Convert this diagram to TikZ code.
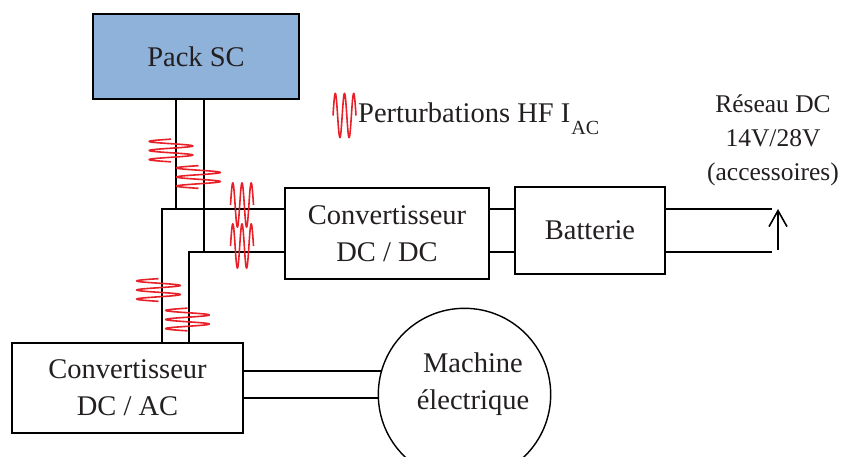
\documentclass[tikz,border=0pt]{standalone}
\usepackage{fontspec}
\setmainfont{Liberation Serif}
\usetikzlibrary{arrows.meta}
\definecolor{txt}{RGB}{35,31,32}
\definecolor{packfill}{RGB}{142,178,218}
\definecolor{pertred}{RGB}{232,32,40}
\begin{document}
\begin{tikzpicture}[x=1pt,y=-1pt,
  box/.style={draw=black, line width=1.4pt, rectangle, text=txt, align=center,
    font=\fontsize{28.5}{37}\selectfont, inner sep=0pt},
  wire/.style={draw=black, line width=2pt, line join=miter},
  pert/.style={draw=pertred, line width=1.6pt},
  hwave/.pic={\draw[pert] plot[domain=0:900,samples=181] ({-21.7*sin(\x)},{-11.35+(\x/900)*22.7});},
  vwave/.pic={\draw[pert] plot[domain=0:900,samples=181] ({-11.5+(\x/900)*23},{-22*sin(\x)});},
  lbl/.style={text=txt, align=center, inner sep=0pt},
]
\useasboundingbox (0,0) rectangle (843,457);
\clip (0,0) rectangle (843,457);

% blocks
\node[box, fill=packfill, line width=1.9pt, minimum width=206pt, minimum height=85pt] (pack) at (196,56.5) {Pack SC};
\node[box, minimum width=204pt, minimum height=91pt] (dcdc) at (387,233.5) {Convertisseur\\DC / DC};
\node[box, minimum width=150pt, minimum height=87pt] (batt) at (590,230.5) {Batterie};
\node[box, minimum width=231pt, minimum height=90pt] (dcac) at (127.5,388) {Convertisseur\\DC / AC};
\node[draw=black, line width=1.4pt, circle, minimum size=172.4pt, inner sep=0pt] (machine) at (464.5,394.5) {};
\node[lbl, font=\fontsize{28.5}{37}\selectfont] (machinelabel) at (473,384) {Machine\\électrique};

% wiring
\coordinate (hA) at (162,209);
\coordinate (hB) at (189,252);
\coordinate (pA) at ([xshift=-20pt]pack.south);
\coordinate (pB) at ([xshift=8pt]pack.south);
\draw[wire] (pA) -- (pA |- hA);
\draw[wire] (pB) -- (pB |- hB);
\draw[wire] (dcac.north -| hA) -- (hA) -- (dcdc.west |- hA);
\draw[wire] (dcac.north -| hB) -- (hB) -- (dcdc.west |- hB);
\draw[wire] (dcdc.east |- hA) -- (batt.west |- hA);
\draw[wire] (dcdc.east |- hB) -- (batt.west |- hB);
\coordinate (nA) at (772,209);
\coordinate (nB) at (772,252);
\draw[wire] (batt.east |- nA) -- (nA);
\draw[wire] (batt.east |- nB) -- (nB);
\draw[line width=1.6pt, -{Straight Barb[length=16pt,width=18pt]}] ([xshift=6pt,yshift=2pt]nB) -- ([xshift=6pt]nA);
\draw[wire] (dcac.east |- machine.164.6) -- (machine.164.6);
\draw[wire] (dcac.east |- machine.182) -- (machine.182);

% perturbations
\pic at (171,150.5) {hwave};
\pic at (198.5,177) {hwave};
\pic at (158.5,290) {hwave};
\pic at (187.5,319.5) {hwave};
\pic at (242,205) {vwave};
\pic at (242,246) {vwave};
\pic at (344.5,115.5) {vwave};

% labels
\node[lbl, anchor=base west, font=\fontsize{28.5}{37}\selectfont] (legend) at (358,123)
  {Perturbations HF I\kern1pt\raisebox{-11.7pt}{\fontsize{20}{20}\selectfont AC}};
\node[lbl, font=\fontsize{25.5}{34}\selectfont] (reseau) at (773,140) {Réseau DC\\14V/28V\\(accessoires)};
\end{tikzpicture}
\end{document}
